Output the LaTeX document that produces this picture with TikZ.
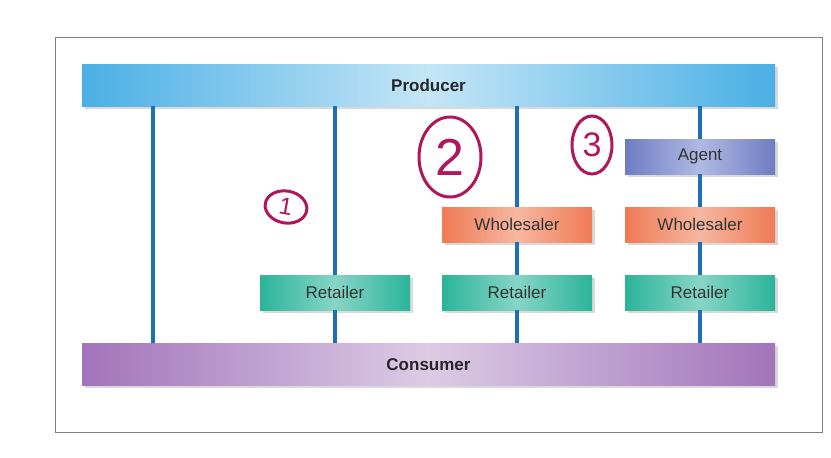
\documentclass[tikz,border=0pt]{standalone}
\usepackage{fontspec}
\setmainfont{Liberation Sans}
\usetikzlibrary{shapes,positioning,shadows}
\definecolor{line}{HTML}{1F6FB5}
\definecolor{ink}{HTML}{B0155E}
\definecolor{prodA}{HTML}{4AAFE5}
\definecolor{prodB}{HTML}{C4E6F6}
\definecolor{consA}{HTML}{A274BA}
\definecolor{consB}{HTML}{DCCBE5}
\definecolor{retA}{HTML}{2BB49A}
\definecolor{retB}{HTML}{86D5C6}
\definecolor{whsA}{HTML}{EE7A55}
\definecolor{whsB}{HTML}{F6B7A0}
\definecolor{agtA}{HTML}{6E7DC3}
\definecolor{agtB}{HTML}{B0B9E2}
\tikzset{
  bar/.style={minimum width=693pt, minimum height=42pt, inner sep=0,
    font=\bfseries\fontsize{17}{20}\selectfont, text=black!85, drop shadow={opacity=0.3}},
  box/.style={minimum width=150pt, minimum height=35pt, inner sep=0,
    font=\fontsize{17}{20}\selectfont, text=black!80, drop shadow={opacity=0.3}},
  retailer/.style={box, left color=retA, right color=retA, middle color=retB},
  wholesaler/.style={box, left color=whsA, right color=whsA, middle color=whsB},
  agent/.style={box, left color=agtA, right color=agtA, middle color=agtB},
  hand/.style={draw=ink, ellipse, line width=3pt, text=ink, inner sep=1pt}
}
\begin{document}
\begin{tikzpicture}[x=1pt,y=-1pt]
\useasboundingbox (0,0) rectangle (831,458);
\draw[gray, line width=0.6pt] (55,37) rectangle (822,432);

% bars
\node[bar, left color=prodA, right color=prodA, middle color=prodB] (producer) at (428.5,85) {Producer};
\node[bar, left color=consA, right color=consA, middle color=consB] (consumer) at (428.5,364.5) {Consumer};

% boxes
\node[retailer] (ret1) at (335,292.5) {Retailer};
\node[retailer] (ret2) at (517,292.5) {Retailer};
\node[retailer] (ret3) at (700,292.5) {Retailer};
\node[wholesaler] (whs2) at (517,224.5) {Wholesaler};
\node[wholesaler] (whs3) at (700,224.5) {Wholesaler};
\node[agent] (agent3) at (700,156.5) {Agent};

% channels
\draw[line, line width=3.5pt] (producer.south -| 153,0) -- (consumer.north -| 153,0);
\draw[line, line width=3.5pt] (producer.south -| ret1) -- (ret1.north);
\draw[line, line width=3.5pt] (ret1.south) -- (consumer.north -| ret1);
\draw[line, line width=3.5pt] (producer.south -| ret2) -- (whs2.north);
\draw[line, line width=3.5pt] (whs2.south) -- (ret2.north);
\draw[line, line width=3.5pt] (ret2.south) -- (consumer.north -| ret2);
\draw[line, line width=3.5pt] (producer.south -| ret3) -- (agent3.north);
\draw[line, line width=3.5pt] (agent3.south) -- (whs3.north);
\draw[line, line width=3.5pt] (whs3.south) -- (ret3.north);
\draw[line, line width=3.5pt] (ret3.south) -- (consumer.north -| ret3);

% handwritten marks
\node[hand, minimum width=42pt, minimum height=32pt, rotate=-10,
  font=\fontsize{24}{26}\selectfont] (one) at (286,207) {1};
\node[hand, minimum width=62pt, minimum height=80pt,
  font=\fontsize{52}{56}\selectfont] (two) at (450,157) {2};
\node[hand, minimum width=40pt, minimum height=58pt,
  font=\fontsize{34}{38}\selectfont] (three) at (592,145) {3};
\end{tikzpicture}
\end{document}
